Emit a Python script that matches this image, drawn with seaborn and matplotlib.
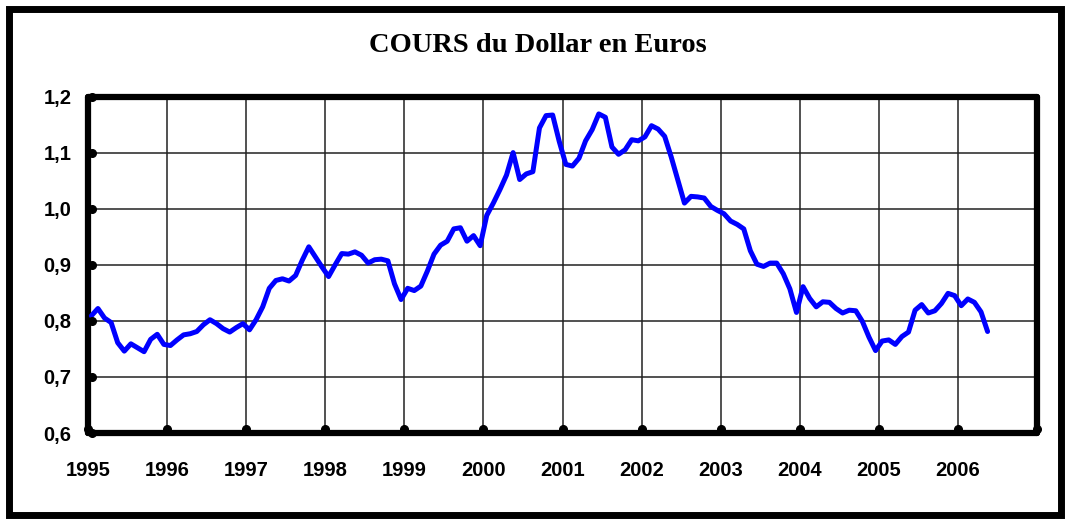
import numpy as np
import pandas as pd
import seaborn as sns
import matplotlib.pyplot as plt
import matplotlib.transforms as mtransforms
from matplotlib.patches import Rectangle

# monthly USD->EUR rate, Jan 1995 .. May 2006
rates = [
    0.809, 0.822, 0.805, 0.797, 0.761, 0.746, 0.759, 0.752, 0.745, 0.767, 0.776, 0.758,  # 1995
    0.756, 0.766, 0.775, 0.777, 0.781, 0.793, 0.802, 0.795, 0.786, 0.780, 0.788, 0.795,  # 1996
    0.784, 0.802, 0.825, 0.858, 0.872, 0.875, 0.871, 0.881, 0.908, 0.932, 0.914, 0.896,  # 1997
    0.879, 0.900, 0.920, 0.919, 0.923, 0.917, 0.903, 0.909, 0.910, 0.907, 0.866, 0.838,  # 1998
    0.858, 0.854, 0.862, 0.889, 0.919, 0.935, 0.942, 0.964, 0.966, 0.942, 0.952, 0.934,  # 1999
    0.988, 1.010, 1.034, 1.060, 1.100, 1.052, 1.062, 1.066, 1.144, 1.166, 1.167, 1.120,  # 2000
    1.079, 1.076, 1.090, 1.121, 1.141, 1.169, 1.163, 1.110, 1.097, 1.105, 1.123, 1.121,  # 2001
    1.128, 1.148, 1.142, 1.129, 1.092, 1.051, 1.010, 1.022, 1.021, 1.019, 1.004, 0.997,  # 2002
    0.991, 0.978, 0.972, 0.964, 0.925, 0.901, 0.897, 0.903, 0.903, 0.884, 0.857, 0.815,  # 2003
    0.861, 0.840, 0.825, 0.834, 0.833, 0.822, 0.814, 0.819, 0.818, 0.799, 0.771, 0.747,  # 2004
    0.764, 0.766, 0.758, 0.772, 0.780, 0.819, 0.829, 0.814, 0.818, 0.831, 0.849, 0.845,  # 2005
    0.827, 0.839, 0.833, 0.816, 0.781,                                                    # 2006
]
years = list(range(1995, 2008))
year_labels = [str(y) for y in range(1995, 2007)] + [""]
yticks = [0.6, 0.7, 0.8, 0.9, 1.0, 1.1, 1.2]
ytick_labels = [f"{v:.1f}".replace(".", ",") for v in yticks]

df = pd.DataFrame({
    "date": 1995 + (np.arange(len(rates)) + 0.5) / 12,
    "rate": rates,
})

sns.set_style("white")
plt.rcParams["font.family"] = ["Liberation Sans", "DejaVu Sans"]
plt.rcParams["text.color"] = "black"
plt.rcParams["xtick.color"] = "black"
plt.rcParams["ytick.color"] = "black"

fig = plt.figure(figsize=(10.66, 5.19), dpi=100)
ax = fig.add_axes([0.0826, 0.1657, 0.8902, 0.6483])

sns.lineplot(data=df, x="date", y="rate", ax=ax, color="#0000FF", lw=3.6, zorder=3)

ax.set_xlim(1995, 2007)
ax.set_ylim(0.6, 1.2)
ax.set_xticks(years)
ax.set_xticklabels(year_labels)
ax.set_yticks(yticks)
ax.set_yticklabels(ytick_labels)
ax.grid(True, color="#222222", lw=1.1)
ax.set_xlabel("")
ax.set_ylabel("")

for s in ax.spines.values():
    s.set_linewidth(4.5)
    s.set_color("black")
    s.set_capstyle("round")

ax.tick_params(length=0, labelsize=14.5, labelcolor="black")
ax.tick_params(axis="x", pad=20)
ax.tick_params(axis="y", pad=12)
for lab in ax.get_xticklabels() + ax.get_yticklabels():
    lab.set_fontweight("bold")

# round tick blobs sitting on the inner side of the spines
up = mtransforms.offset_copy(ax.transData, fig=fig, x=0, y=3, units="points")
right = mtransforms.offset_copy(ax.transData, fig=fig, x=3, y=0, units="points")
ax.plot(years, [0.6] * len(years), "o", color="black", ms=5.5, clip_on=False, zorder=5, transform=up)
ax.plot([1995] * len(yticks), yticks, "o", color="black", ms=5.5, clip_on=False, zorder=5, transform=right)

fig.text(0.505, 0.913, "COURS du Dollar en Euros", ha="center", va="center", color="black",
         fontsize=20.5, fontweight="bold", family=["Liberation Serif", "DejaVu Serif"])

fig.patches.append(Rectangle((0.0085, 0.0075), 0.987, 0.976, transform=fig.transFigure,
                             fill=False, edgecolor="black", lw=5))

fig.savefig("out.png", dpi=100)
